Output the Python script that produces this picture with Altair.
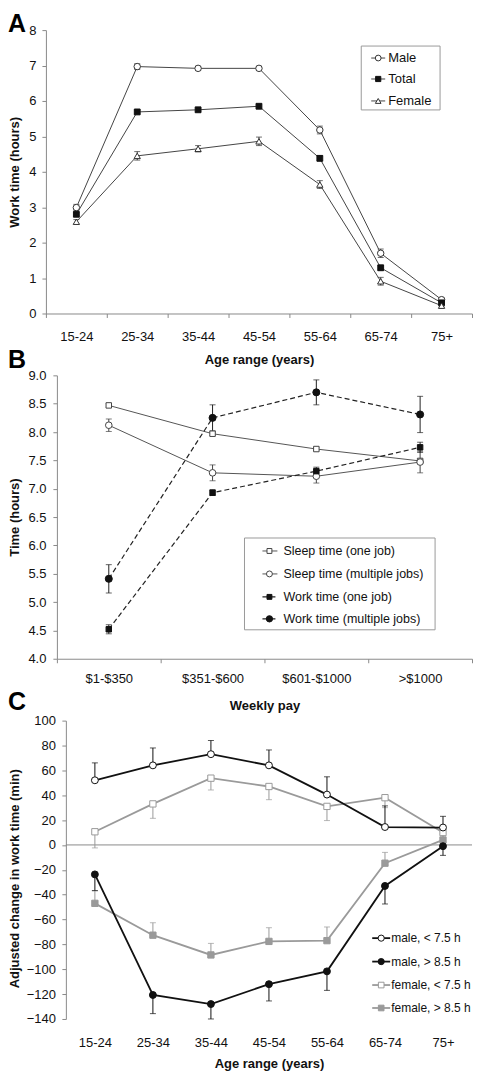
import altair as alt
import pandas as pd

FONT = "Liberation Sans"
AXIS_GRAY = "#8a8a8a"

# ---------------- Panel A data ----------------
age_groups = ["15-24", "25-34", "35-44", "45-54", "55-64", "65-74", "75+"]
a_names = ["Male", "Total", "Female"]
a_male = [2.99, 6.97, 6.92, 6.92, 5.18, 1.70, 0.39]
a_male_err = [0.09, 0.08, 0.06, 0.06, 0.11, 0.12, 0.05]
a_total = [2.80, 5.69, 5.75, 5.85, 4.38, 1.29, 0.30]
a_total_err = [0.05, 0.05, 0.05, 0.05, 0.07, 0.07, 0.03]
a_female = [2.59, 4.45, 4.65, 4.86, 3.64, 0.91, 0.22]
a_female_err = [0.06, 0.12, 0.09, 0.12, 0.11, 0.11, 0.04]

# ---------------- Panel B data ----------------
pay_groups = ["$1-$350", "$351-$600", "$601-$1000", ">$1000"]
b_names = ["Sleep time (one job)", "Sleep time (multiple jobs)",
           "Work time (one job)", "Work time (multiple jobs)"]
b_sleep_one = [8.47, 7.97, 7.70, 7.49]
b_sleep_one_err = [0.03, 0.03, 0.03, 0.03]
b_sleep_multi = [8.12, 7.28, 7.22, 7.47]
b_sleep_multi_err = [0.11, 0.14, 0.12, 0.19]
b_work_one = [4.52, 6.93, 7.31, 7.73]
b_work_one_err = [0.08, 0.05, 0.07, 0.09]
b_work_multi = [5.41, 8.25, 8.70, 8.31]
b_work_multi_err = [0.25, 0.23, 0.22, 0.32]

# ---------------- Panel C data ----------------
c_names = ["male, < 7.5 h", "male, > 8.5 h", "female, < 7.5 h", "female, > 8.5 h"]
c_male_lt = [52.0, 64.0, 73.0, 64.0, 40.5, 14.4, 14.0]
c_male_lt_up = [14.0, 14.0, 11.0, 12.4, 14.3, 17.0, 9.0]
c_male_gt = [-23.7, -120.7, -128.0, -112.0, -101.7, -33.0, -1.0]
c_male_gt_down = [13.0, 15.0, 12.0, 13.5, 15.3, 14.5, 7.4]
c_female_lt = [10.6, 33.0, 53.7, 47.0, 31.0, 38.0, 10.0]
c_female_lt_down = [13.0, 11.6, 9.5, 10.6, 11.4, 8.0, 5.0]
c_female_gt = [-47.0, -72.6, -88.5, -77.6, -77.0, -14.7, 4.0]
c_female_gt_up = [10.0, 10.0, 9.3, 11.0, 11.0, 8.7, 5.0]


def make_df(cats, values, lo_err, hi_err):
    return pd.DataFrame({
        "cat": cats,
        "value": values,
        "lo": [v - e for v, e in zip(values, lo_err)],
        "hi": [v + e for v, e in zip(values, hi_err)],
    })


def make_caps(cats, values, lo_err, hi_err):
    rows = []
    for c, v, l, h in zip(cats, values, lo_err, hi_err):
        if l > 0:
            rows.append({"cat": c, "cap": v - l})
        if h > 0:
            rows.append({"cat": c, "cap": v + h})
    return pd.DataFrame(rows)


def panel(cats, xrange, series, ydom, yvals, yfmt, ytitle, ytitle_x, ytitle_y,
          yoffset, ylabelpad, xtitle, xaxis_line, xlabelpad, xtitle_y,
          width, height, legend, letter, letter_y, zero_rule=False):
    xscale = alt.Scale(type="band", domain=cats, range=xrange,
                       paddingInner=0, paddingOuter=0)
    xaxis = alt.Axis(
        title=xtitle, labelAngle=0, labelFont=FONT, labelFontSize=13,
        labelColor="#111", labelBaseline="alphabetic", labelPadding=xlabelpad,
        domain=xaxis_line, ticks=xaxis_line, tickSize=4 if xaxis_line else 0,
        tickBand="extent", domainColor=AXIS_GRAY, tickColor=AXIS_GRAY,
        titleFont=FONT, titleFontSize=13, titleFontWeight="bold",
        titleColor="#111", titleY=xtitle_y, titleBaseline="alphabetic",
        grid=False,
    )
    yscale = alt.Scale(domain=ydom, nice=False, zero=False)
    yaxis = alt.Axis(
        title=ytitle, values=yvals, format=yfmt, offset=yoffset,
        labelFont=FONT, labelFontSize=13, labelColor="#111",
        labelPadding=ylabelpad, tickSize=4, domainColor=AXIS_GRAY,
        tickColor=AXIS_GRAY, titleFont=FONT, titleFontSize=13,
        titleFontWeight="bold", titleColor="#111", titleX=ytitle_x,
        titleY=ytitle_y, titleAngle=270, titleAlign="center",
        titleBaseline="middle", grid=False,
    )

    def X():
        return alt.X("cat:N", scale=xscale, axis=xaxis, bandPosition=0.5)

    def Y(field):
        return alt.Y(field, scale=yscale, axis=yaxis)

    err_layers, line_layers, point_layers = [], [], []
    for s in series:
        df = make_df(cats, s["values"], s["lo"], s["hi"])
        caps = make_caps(cats, s["values"], s["lo"], s["hi"])
        err_layers.append(
            alt.Chart(df).mark_rule(color=s["ecolor"], strokeWidth=1)
            .encode(x=X(), y=Y("lo:Q"), y2="hi:Q"))
        err_layers.append(
            alt.Chart(caps).mark_tick(color=s["ecolor"], thickness=1, size=6,
                                      orient="horizontal")
            .encode(x=X(), y=Y("cap:Q")))
        line_kw = dict(color=s["color"], strokeWidth=s["lw"])
        if s.get("dash"):
            line_kw["strokeDash"] = s["dash"]
        line_layers.append(
            alt.Chart(df).mark_line(**line_kw).encode(x=X(), y=Y("value:Q")))
        point_layers.append(
            alt.Chart(df).mark_point(shape=s["shape"], filled=True,
                                     fill=s["fill"], stroke=s["mstroke"],
                                     strokeWidth=1, size=s["size"], opacity=1)
            .encode(x=X(), y=Y("value:Q")))

    layers = []
    if zero_rule:
        layers.append(
            alt.Chart(pd.DataFrame({"z": [0]}))
            .mark_rule(color=AXIS_GRAY, strokeWidth=1)
            .encode(y=Y("z:Q"), x=alt.value(xrange[0]), x2=alt.value(xrange[1])))
    layers += err_layers + line_layers + point_layers

    # legend
    if legend.get("box"):
        bx1, bx2, by1, by2 = legend["box"]
        layers.append(
            alt.Chart(pd.DataFrame({"b": [1]}))
            .mark_rect(fill="white", stroke="#9a9a9a", strokeWidth=1)
            .encode(x=alt.value(bx1), x2=alt.value(bx2),
                    y=alt.value(by1), y2=alt.value(by2)))
    x1, x2, xm, xt = legend["x"]
    for s, ly in zip(series, legend["ys"]):
        ldf = pd.DataFrame({"label": [s["name"]]})
        rule_kw = dict(color=s["color"], strokeWidth=s["lw"])
        if s.get("dash"):
            rule_kw["strokeDash"] = s["dash"]
        layers.append(alt.Chart(ldf).mark_rule(**rule_kw).encode(
            x=alt.value(x1), x2=alt.value(x2), y=alt.value(ly)))
        layers.append(alt.Chart(ldf).mark_point(
            shape=s["shape"], filled=True, fill=s["fill"], stroke=s["mstroke"],
            strokeWidth=1, size=s["size"] * 0.8, opacity=1).encode(
            x=alt.value(xm), y=alt.value(ly)))
        layers.append(alt.Chart(ldf).mark_text(
            align="left", baseline="middle", font=FONT,
            fontSize=legend["fs"], color="#111").encode(
            x=alt.value(xt), y=alt.value(ly), text="label:N"))

    layers.append(
        alt.Chart(pd.DataFrame({"letter": [letter]}))
        .mark_text(align="left", baseline="top", font=FONT,
                   fontSize=25, fontWeight="bold", color="#000")
        .encode(x=alt.value(-38), y=alt.value(letter_y), text="letter:N"))

    return alt.layer(*layers).properties(width=width, height=height)


W = 427
DK = "#333333"

# ---------- Panel A ----------
series_a = [
    dict(name=a_names[0], values=a_male, lo=a_male_err, hi=a_male_err,
         color="#444444", lw=1, shape="circle", fill="white", mstroke=DK,
         size=42, ecolor=DK),
    dict(name=a_names[1], values=a_total, lo=a_total_err, hi=a_total_err,
         color="#444444", lw=1, shape="square", fill="#111111", mstroke="#111111",
         size=34, ecolor=DK),
    dict(name=a_names[2], values=a_female, lo=a_female_err, hi=a_female_err,
         color="#444444", lw=1, shape="triangle-up", fill="white", mstroke=DK,
         size=40, ecolor=DK),
]
chart_a = panel(
    age_groups, [0, W], series_a, [0, 8], list(range(0, 9)), "d",
    "Work time (hours)", -31.5, 142, 0, 6,
    "Age range (years)", True, 23, 50, W, 284,
    dict(box=(316, 395, 16, 80), ys=[28, 49, 71], x=(326, 340, 333, 343), fs=13),
    "A", -18)

# ---------- Panel B ----------
series_b = [
    dict(name=b_names[0], values=b_sleep_one, lo=b_sleep_one_err, hi=b_sleep_one_err,
         color="#555555", lw=1, shape="square", fill="white", mstroke="#444444",
         size=30, ecolor="#444444"),
    dict(name=b_names[1], values=b_sleep_multi, lo=b_sleep_multi_err, hi=b_sleep_multi_err,
         color="#555555", lw=1, shape="circle", fill="white", mstroke="#444444",
         size=44, ecolor="#444444"),
    dict(name=b_names[2], values=b_work_one, lo=b_work_one_err, hi=b_work_one_err,
         color="#222222", lw=1.2, dash=[5, 3], shape="square", fill="#111111",
         mstroke="#111111", size=30, ecolor="#222222"),
    dict(name=b_names[3], values=b_work_multi, lo=b_work_multi_err, hi=b_work_multi_err,
         color="#222222", lw=1.2, dash=[5, 3], shape="circle", fill="#111111",
         mstroke="#111111", size=50, ecolor="#222222"),
]
chart_b = panel(
    pay_groups, [11, W], series_b, [4, 9], [4 + 0.5 * i for i in range(11)], ".1f",
    "Time (hours)", -42, 142, -11, 7,
    "Weekly pay", True, 20, 51, W, 284,
    dict(box=(199, 390, 163, 255), ys=[176, 199, 222, 244],
         x=(217, 232, 224, 238), fs=12.5),
    "B", -27)

# ---------- Panel C ----------
zeros = [0] * 7
series_c = [
    dict(name=c_names[2], values=c_female_lt, lo=c_female_lt_down, hi=zeros,
         color="#9a9a9a", lw=1.8, shape="square", fill="white", mstroke="#9a9a9a",
         size=40, ecolor="#9a9a9a"),
    dict(name=c_names[3], values=c_female_gt, lo=zeros, hi=c_female_gt_up,
         color="#9a9a9a", lw=1.8, shape="square", fill="#9a9a9a", mstroke="#9a9a9a",
         size=40, ecolor="#9a9a9a"),
    dict(name=c_names[0], values=c_male_lt, lo=zeros, hi=c_male_lt_up,
         color="#111111", lw=1.8, shape="circle", fill="white", mstroke="#111111",
         size=48, ecolor="#111111"),
    dict(name=c_names[1], values=c_male_gt, lo=c_male_gt_down, hi=zeros,
         color="#111111", lw=1.8, shape="circle", fill="#111111", mstroke="#111111",
         size=48, ecolor="#111111"),
]
# legend order: male <7.5, male >8.5, female <7.5, female >8.5
legend_c_ys = {c_names[0]: 218, c_names[1]: 241.5, c_names[2]: 265, c_names[3]: 288}
chart_c = panel(
    age_groups, [20, W], series_c, [-140, 100], list(range(-140, 101, 20)), "d",
    "Adjusted change in work time (min)", -51.5, 158, -20, 6.5,
    "Age range (years)", False, 28, 49, W, 299,
    dict(box=None, ys=[legend_c_ys[s["name"]] for s in series_c],
         x=(327, 345, 336, 346), fs=12),
    "C", -31, zero_rule=True)

chart = alt.vconcat(chart_a, chart_b, chart_c, spacing=62, bounds="flush").properties(
    padding={"left": 0, "top": 3, "right": 0, "bottom": 0}
).configure_view(stroke=None)

chart.save("out.html", embed_options={"renderer": "svg", "actions": False})
